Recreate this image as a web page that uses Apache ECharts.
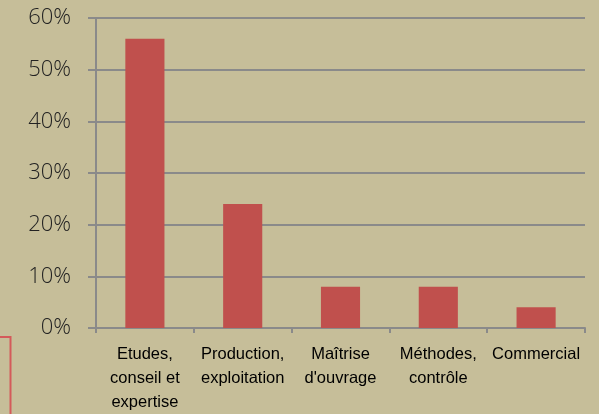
<!DOCTYPE html>
<html>
<head>
<meta charset="utf-8">
<script src="https://cdn.jsdelivr.net/npm/echarts@6/dist/echarts.min.js"></script>
<style>
  html, body { margin: 0; padding: 0; background: #c6be99; }
  #chart { width: 599px; height: 414px; }
</style>
</head>
<body>
<div id="chart"></div>
<script>
// catégories (retours à la ligne comme dans l'original)
const categories = [
  "Etudes,\nconseil et\nexpertise",
  "Production,\nexploitation",
  "Maîtrise\nd'ouvrage",
  "Méthodes,\ncontrôle",
  "Commercial"
];
const values = [56, 24, 8, 8, 4]; // en %
const yTicks = [0, 10, 20, 30, 40, 50, 60];

const gridColor = "#8a8a8a";

let option = {
  backgroundColor: "#c6be99",
  animation: false,
  grid: { left: 96, right: 14, top: 18, bottom: 85 },
  xAxis: {
    type: "category",
    data: categories,
    axisLine: { show: true, lineStyle: { color: gridColor, width: 2 } },
    axisTick: { show: true, length: 5, lineStyle: { color: gridColor, width: 2 } },
    axisLabel: {
      interval: 0,
      margin: 14,
      color: "#000",
      fontSize: 16.5,
      lineHeight: 24,
      fontFamily: "'Liberation Sans', Arial, sans-serif"
    }
  },
  yAxis: {
    type: "value",
    min: yTicks[0],
    max: yTicks[yTicks.length - 1],
    interval: 10,
    axisLine: { show: true, lineStyle: { color: gridColor, width: 2 } },
    axisTick: { show: true, length: 8, lineStyle: { color: gridColor, width: 2 } },
    splitLine: { show: true, lineStyle: { color: gridColor, width: 2 } },
    axisLabel: {
      margin: 25,
      color: "#222",
      fontSize: 22,
      fontWeight: 300,
      fontFamily: "'Open Sans', sans-serif",
      formatter: "{value}%"
    }
  },
  series: [
    {
      type: "bar",
      data: values,
      barWidth: "40%",
      itemStyle: { color: "#c0504d" }
    }
  ],
  // bout de cadre rouge coupé en bas à gauche
  graphic: [
    {
      type: "rect",
      shape: { x: -6, y: 337, width: 16.5, height: 100 },
      style: { fill: "none", stroke: "#d45a5a", lineWidth: 2 }
    }
  ]
};

let myChart = echarts.init(document.getElementById("chart"));
myChart.setOption(option);
</script>
</body>
</html>
